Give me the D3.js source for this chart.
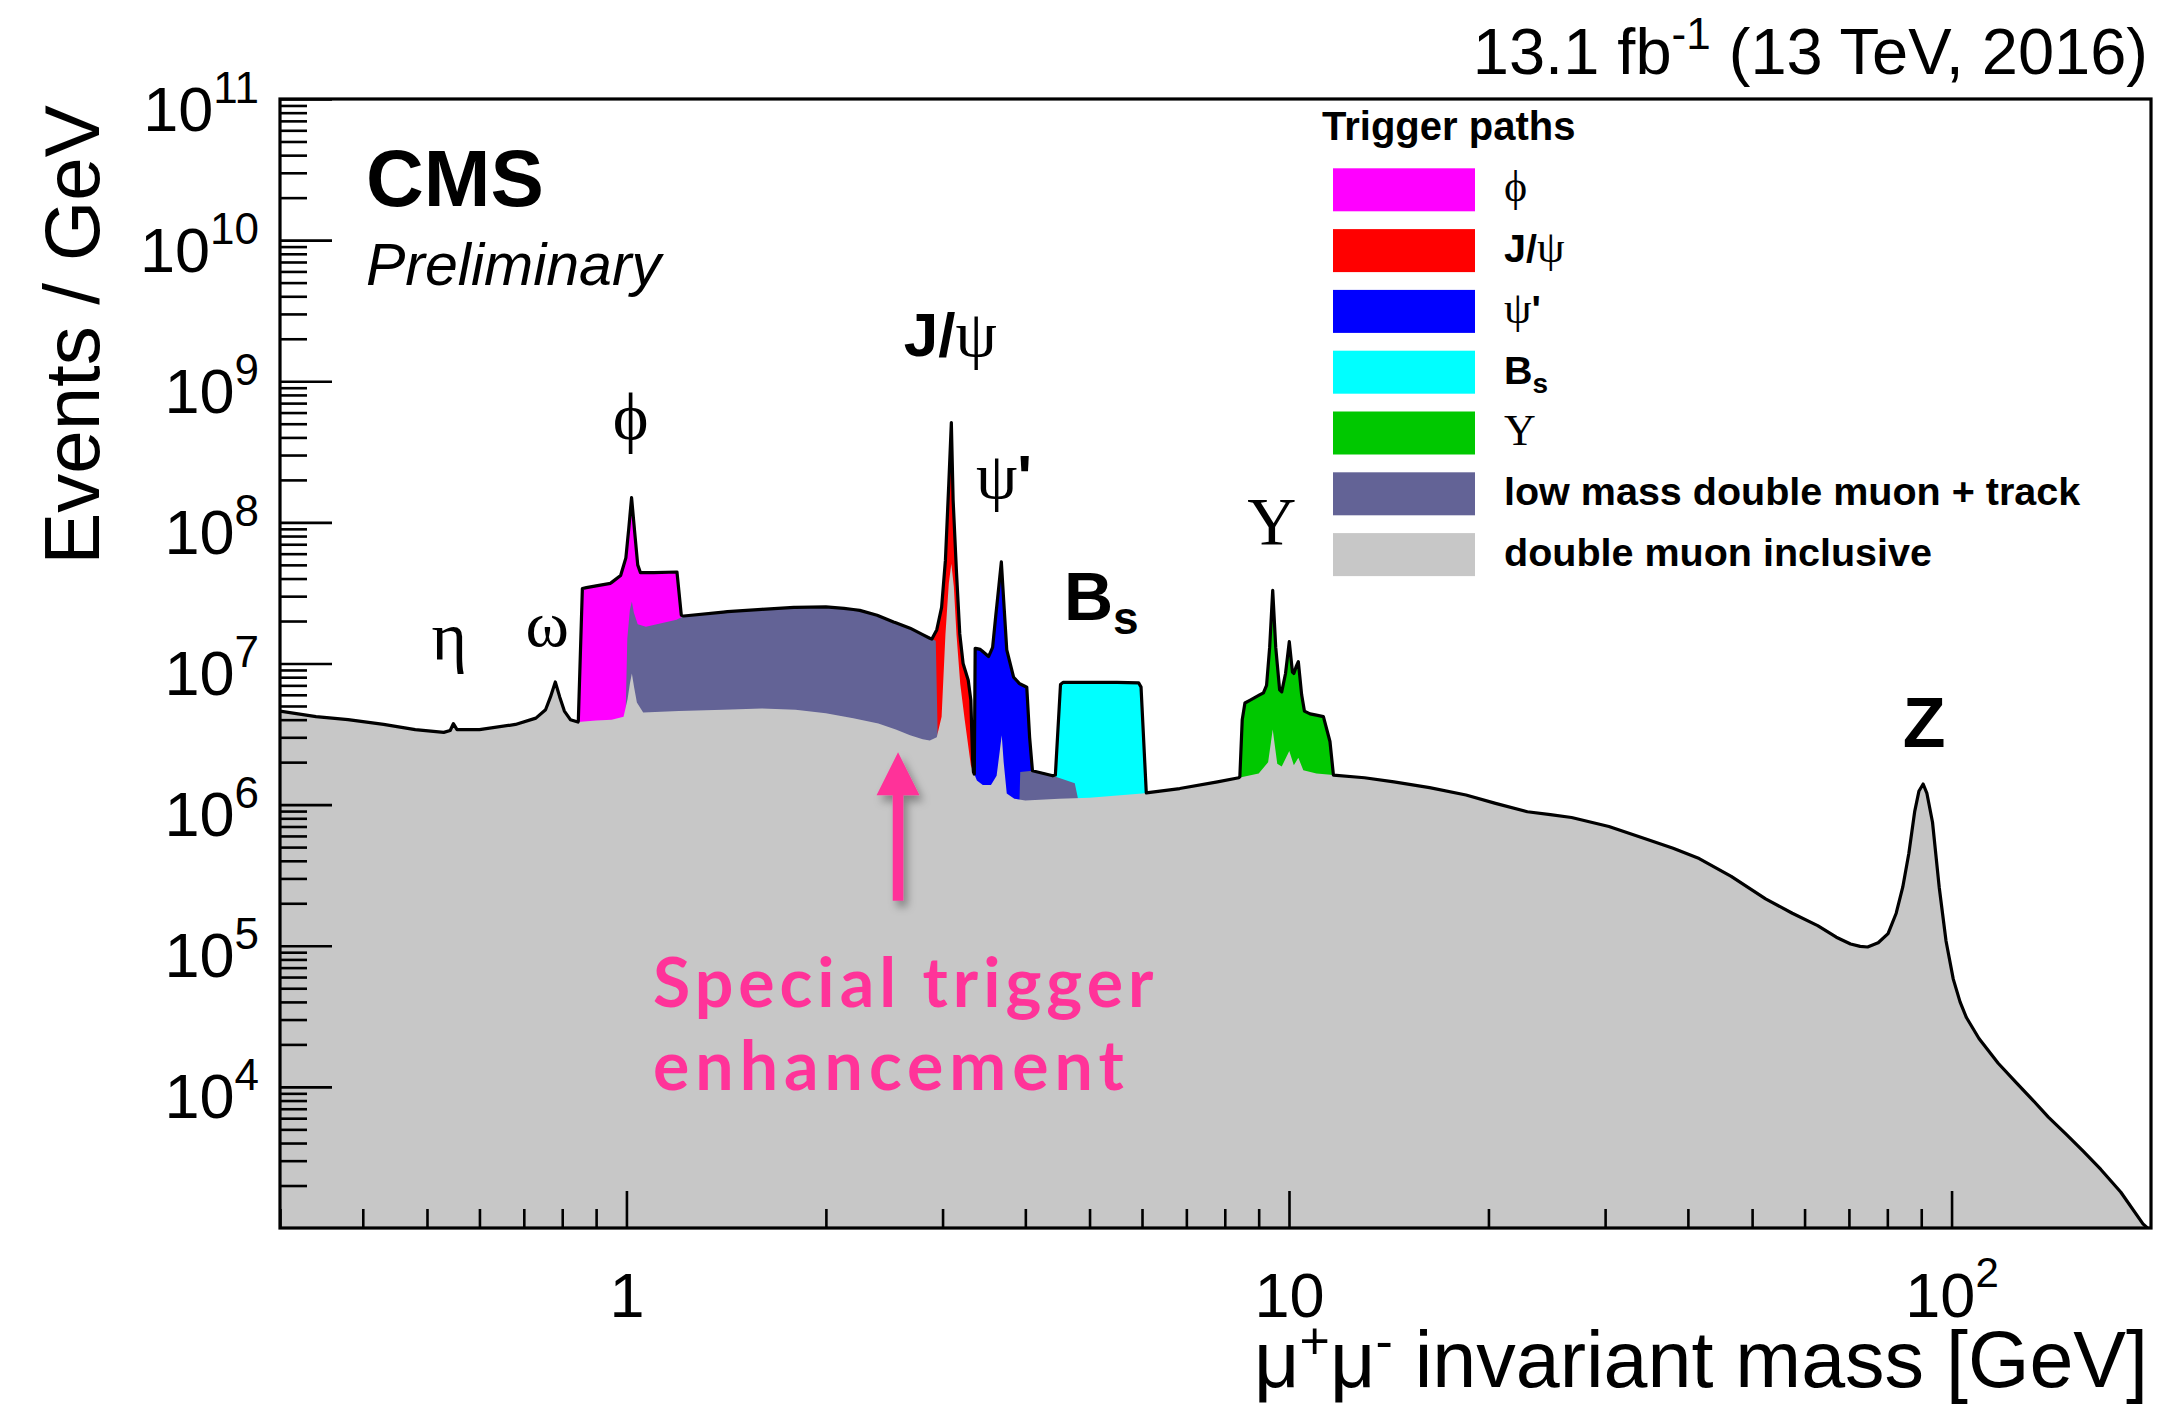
<!DOCTYPE html>
<html>
<head>
<meta charset="utf-8">
<script src="https://cdn.jsdelivr.net/npm/d3@7"></script>
<style>
  body { margin: 0; background: #ffffff; }
  svg { display: block; }
  text { font-family: "Liberation Sans", Arial, Helvetica, sans-serif; fill: #000; }
  .serif { font-family: "Liberation Serif", "DejaVu Serif", "Times New Roman", serif; }
</style>
</head>
<body>
<svg id="chart" width="2163" height="1404"></svg>
<script>
// ---- Dimuon invariant-mass spectrum, events per GeV, per trigger path ----
// Each series is a list of [mass (GeV), events/GeV]; null splits a series into pieces.

const inclusive = [
  [0.30,4.6e6],[0.34,4.2e6],[0.38,4.0e6],[0.43,3.7e6],[0.48,3.4e6],[0.53,3.25e6],
  [0.542,3.35e6],[0.548,3.75e6],[0.555,3.4e6],[0.60,3.4e6],[0.68,3.7e6],[0.73,4.1e6],
  [0.755,4.7e6],[0.768,5.8e6],[0.781,7.4e6],[0.793,5.8e6],[0.806,4.6e6],[0.823,4.0e6],
  [0.845,3.85e6],[0.90,3.95e6],[0.95,4.0e6],[0.99,4.2e6],[1.004,5.6e6],[1.012,7.2e6],
  [1.019,8.5e6],[1.027,6.8e6],[1.037,5.3e6],[1.06,4.5e6],[1.2,4.6e6],[1.4,4.7e6],
  [1.6,4.8e6],[1.8,4.7e6],[2.0,4.45e6],[2.2,4.1e6],[2.4,3.75e6],[2.55,3.4e6],
  [2.68,3.1e6],[2.8,2.9e6],[2.87,2.85e6],[2.94,3.0e6],[2.99,4.2e6],
  [3.03,1.6e7],[3.066,3.7e7],[3.093,5.1e7],[3.12,3.5e7],[3.149,1.6e7],[3.19,7.2e6],
  [3.24,4.0e6],[3.31,1.9e6],[3.38,1.48e6],[3.45,1.38e6],[3.55,1.38e6],[3.62,1.6e6],
  [3.66,2.4e6],[3.685,3.1e6],[3.71,2.0e6],[3.75,1.2e6],[3.85,1.1e6],[4.0,1.07e6],
  [4.5,1.1e6],[5.0,1.12e6],[6.0,1.2e6],[6.84,1.3e6],[7.8,1.45e6],[8.4,1.55e6],
  [9.0,1.66e6],[9.3,2.0e6],[9.45,3.4e6],[9.6,1.95e6],[9.75,1.86e6],[10.01,2.4e6],
  [10.17,1.9e6],[10.33,2.15e6],[10.51,1.75e6],[11.0,1.66e6],[11.67,1.62e6],[13.0,1.55e6],
  [14.4,1.45e6],[16.3,1.32e6],[18.5,1.17e6],[20.5,1.02e6],[22.9,8.9e5],[24.8,8.5e5],
  [26.7,8.1e5],[30.4,7.0e5],[34.4,5.75e5],[38.0,4.9e5],[41.6,4.15e5],[46.5,3.1e5],
  [52.4,2.15e5],[57.5,1.7e5],[62.8,1.39e5],[67.0,1.15e5],[70.4,1.03e5],[72.8,9.9e4],
  [74.7,9.8e4],[77.5,1.05e5],[80.2,1.22e5],[82.5,1.7e5],[84.4,2.6e5],[86.2,4.5e5],
  [88.0,9.0e5],[89.3,1.25e6],[90.6,1.4e6],[91.8,1.2e6],[93.6,7.5e5],[95.8,2.6e5],
  [98.1,1.08e5],[100.6,5.8e4],[103.0,4.0e4],[105.3,3.1e4],[110,2.2e4],[117.6,1.47e4],
  [125,1.08e4],[132.5,8.1e3],[140,6.1e3],[149,4.6e3],[158,3.5e3],[168,2.6e3],
  [180,1.8e3],[194.5,1.07e3],[200,9.5e2]
];

const lowMassTrack = [
  [0.997,4.2e6],[1.003,1.5e7],[1.012,2.4e7],[1.019,2.75e7],[1.026,2.3e7],[1.04,1.9e7],
  [1.07,1.82e7],[1.19,2.04e7],[1.22,2.17e7],[1.42,2.33e7],[1.6,2.42e7],[1.79,2.5e7],
  [2.0,2.52e7],[2.13,2.46e7],[2.25,2.38e7],[2.39,2.2e7],[2.53,1.97e7],[2.68,1.78e7],
  [2.8,1.6e7],[2.87,1.51e7],[2.93,1.45e7],[2.95,3.0e6],
  null,
  [3.92,1.1e6],[3.93,1.7e6],[4.1,1.74e6],[4.4,1.6e6],[4.75,1.42e6],[4.8,1.12e6]
];

const phiPath = [
  [0.846,3.9e6],[0.858,3.4e7],[0.87,3.45e7],[0.90,3.55e7],[0.946,3.7e7],[0.98,4.2e7],
  [0.998,5.6e7],[1.008,9.0e7],[1.018,1.5e8],[1.028,9.0e7],[1.04,5.0e7],[1.05,4.4e7],
  [1.10,4.4e7],[1.192,4.45e7],[1.21,2.2e7]
];

const jpsiPath = [
  [2.89,2.9e6],[2.895,1.51e7],[2.94,1.73e7],[2.99,2.5e7],[3.03,5.4e7],[3.066,1.9e8],
  [3.093,5.1e8],[3.112,1.45e8],[3.149,4.4e7],[3.185,1.62e7],[3.222,1.0e7],[3.28,7.6e6],
  [3.31,5.5e6],[3.33,2.1e6],[3.34,1.6e6]
];

const psi2sPath = [
  [3.35,1.45e6],[3.36,1.28e7],[3.42,1.26e7],[3.52,1.12e7],[3.57,1.3e7],[3.61,2.2e7],
  [3.65,3.6e7],[3.68,5.25e7],[3.71,2.8e7],[3.75,1.25e7],[3.84,8.0e6],[3.92,7.2e6],
  [4.02,6.8e6],[4.06,3.0e6],[4.1,1.7e6]
];

const bsPath = [
  [4.44,1.62e6],[4.52,7.1e6],[4.56,7.35e6],[5.0,7.35e6],[5.5,7.35e6],[5.93,7.3e6],
  [5.98,6.8e6],[6.09,1.2e6]
];

const upsilonPath = [
  [8.43,1.58e6],[8.50,4.0e6],[8.58,5.25e6],[8.74,5.5e6],[9.15,6.2e6],[9.25,7.0e6],
  [9.35,1.3e7],[9.45,3.3e7],[9.55,1.3e7],[9.68,6.5e6],[9.75,6.3e6],[9.88,8.5e6],
  [10.01,1.43e7],[10.12,8.7e6],[10.17,8.5e6],[10.25,9.5e6],[10.33,1.03e7],[10.45,6.0e6],
  [10.55,4.6e6],[10.76,4.4e6],[11.27,4.2e6],[11.53,2.8e6],[11.67,1.62e6]
];

// axis ticks
const yMajorTicks = [1e4,1e5,1e6,1e7,1e8,1e9,1e10,1e11];
const xMajorTicks = [1,10,100];
const xTickLabels = [["1",""],["10",""],["10","2"]];

// legend entries: [color, label pieces (text, style)]
const legendEntries = [
  ["#ff00ff", [["\u03D5","greek"]]],
  ["#ff0000", [["J/","bold"],["\u03C8","greek"]]],
  ["#0000ff", [["\u03C8","greek"],["'","bold"]]],
  ["#00ffff", [["B","bold"],["s","boldsub"]]],
  ["#00c800", [["\u03A5","greek"]]],
  ["#636396", [["low mass double muon + track","bold"]]],
  ["#c7c7c7", [["double muon inclusive","bold"]]]
];

// ---- layout ----
const W = 2163, H = 1404;
const plot = { left: 280, right: 2151, top: 99, bottom: 1228 };

const x = d3.scaleLog().domain([0.3, 200]).range([plot.left, plot.right]);
const y = d3.scaleLog().domain([1e3, 1e11]).range([plot.bottom, plot.top]);

const svg = d3.select("#chart");
svg.append("rect").attr("width", W).attr("height", H).attr("fill", "#fff");

const defs = svg.append("defs");
defs.append("clipPath").attr("id", "plotClip")
  .append("rect")
  .attr("x", plot.left).attr("y", plot.top)
  .attr("width", plot.right - plot.left).attr("height", plot.bottom - plot.top);
const shadow = defs.append("filter").attr("id", "arrowShadow")
  .attr("x", "-50%").attr("y", "-50%").attr("width", "200%").attr("height", "200%");
shadow.append("feDropShadow").attr("dx", 4).attr("dy", 6).attr("stdDeviation", 4)
  .attr("flood-color", "#000").attr("flood-opacity", 0.35);

const area = d3.area()
  .defined(d => d !== null)
  .x(d => x(d[0]))
  .y0(y(1e3))
  .y1(d => y(d[1]));

const gPlot = svg.append("g").attr("clip-path", "url(#plotClip)");

// trigger windows first, then the track path, then the inclusive spectrum on top
const layers = [
  [phiPath, "#ff00ff"],
  [jpsiPath, "#ff0000"],
  [psi2sPath, "#0000ff"],
  [bsPath, "#00ffff"],
  [upsilonPath, "#00c800"],
  [lowMassTrack, "#636396"],
  [inclusive, "#c7c7c7"]
];
layers.forEach(([data, color]) => {
  gPlot.append("path").datum(data).attr("d", area).attr("fill", color).attr("stroke", "none");
});

// outline: upper envelope of all trigger paths
function splitSegments(series) {
  const segs = []; let cur = [];
  series.forEach(p => {
    if (p === null) { if (cur.length) segs.push(cur); cur = []; }
    else cur.push(p);
  });
  if (cur.length) segs.push(cur);
  return segs;
}
const bisect = d3.bisector(d => d[0]).right;
function logValueAt(seg, m) {
  if (m < seg[0][0] || m > seg[seg.length - 1][0]) return -Infinity;
  const i = bisect(seg, m);
  if (i >= seg.length) return Math.log10(seg[seg.length - 1][1]);
  if (i === 0) return Math.log10(seg[0][1]);
  const a = seg[i - 1], b = seg[i];
  const t = (Math.log(m) - Math.log(a[0])) / (Math.log(b[0]) - Math.log(a[0]));
  return Math.log10(a[1]) + t * (Math.log10(b[1]) - Math.log10(a[1]));
}
const allSegments = layers.flatMap(([data]) => splitSegments(data));
const masses = Array.from(new Set(allSegments.flatMap(s => s.map(p => p[0])))).sort((a, b) => a - b);
const envelope = masses.map(m => [m, Math.pow(10, d3.max(allSegments, s => logValueAt(s, m)))]);

gPlot.append("path").datum(envelope)
  .attr("d", d3.line().x(d => x(d[0])).y(d => y(d[1])))
  .attr("fill", "none").attr("stroke", "#000").attr("stroke-width", 3.2)
  .attr("stroke-linejoin", "round");

// ---- axes ----
const yMinor = [];
for (let e = 3; e <= 10; e++) for (let k = 2; k <= 9; k++) yMinor.push(k * Math.pow(10, e));
const xMinor = [];
[0.1, 1, 10].forEach(base => { for (let k = 2; k <= 9; k++) { const v = k * base; if (v > 0.3 && v < 200) xMinor.push(v); } });

function styleTicks(g) {
  g.select(".domain").remove();
  g.selectAll(".tick line").attr("stroke", "#000").attr("stroke-width", 2.6);
}

const yMinorG = svg.append("g").attr("transform", `translate(${plot.left},0)`)
  .call(d3.axisLeft(y).tickValues(yMinor).tickSize(-27).tickFormat(""));
styleTicks(yMinorG);
yMinorG.selectAll(".tick text").remove();

const yMajorG = svg.append("g").attr("transform", `translate(${plot.left},0)`)
  .call(d3.axisLeft(y).tickValues(yMajorTicks).tickSize(-52).tickPadding(21));
styleTicks(yMajorG);
yMajorG.selectAll(".tick text").each(function (d) {
  const t = d3.select(this);
  t.text(null).attr("dy", null).attr("y", 31)
    .attr("text-anchor", "end")
    .style("font-family", '"Liberation Sans", Arial, sans-serif')
    .style("font-size", "63px").attr("fill", "#000");
  t.append("tspan").text("10");
  t.append("tspan").attr("dy", -28).style("font-size", "44px").text(String(Math.round(Math.log10(d))));
});

const xMinorG = svg.append("g").attr("transform", `translate(0,${plot.bottom})`)
  .call(d3.axisBottom(x).tickValues(xMinor).tickSize(-19).tickFormat(""));
styleTicks(xMinorG);
xMinorG.selectAll(".tick text").remove();

const xMajorG = svg.append("g").attr("transform", `translate(0,${plot.bottom})`)
  .call(d3.axisBottom(x).tickValues(xMajorTicks).tickSize(-37));
styleTicks(xMajorG);
xMajorG.selectAll(".tick text").each(function (d, i) {
  const t = d3.select(this);
  const [base, exp] = xTickLabels[i];
  t.text(null).attr("dy", null).attr("y", 89)
    .attr("text-anchor", "middle")
    .style("font-family", '"Liberation Sans", Arial, sans-serif')
    .style("font-size", "63px").attr("fill", "#000");
  t.append("tspan").text(base);
  if (exp) t.append("tspan").attr("dy", -30).style("font-size", "42px").text(exp);
});

// frame
svg.append("rect")
  .attr("x", plot.left).attr("y", plot.top)
  .attr("width", plot.right - plot.left).attr("height", plot.bottom - plot.top)
  .attr("fill", "none").attr("stroke", "#000").attr("stroke-width", 3.2);

// ---- axis titles ----
svg.append("text")
  .attr("transform", `translate(99,335) rotate(-90)`)
  .attr("text-anchor", "middle").style("font-size", "78px")
  .text("Events / GeV");

const xt = svg.append("text").attr("x", 2148).attr("y", 1387)
  .attr("text-anchor", "end").style("font-size", "79px");
xt.append("tspan").text("\u03BC");
xt.append("tspan").attr("dy", -28).style("font-size", "52px").text("+");
xt.append("tspan").attr("dy", 28).text("\u03BC");
xt.append("tspan").attr("dy", -28).style("font-size", "52px").text("-");
xt.append("tspan").attr("dy", 28).text(" invariant mass [GeV]");

// luminosity / energy
const lumi = svg.append("text").attr("x", 2148).attr("y", 74)
  .attr("text-anchor", "end").style("font-size", "65px");
lumi.append("tspan").text("13.1 fb");
lumi.append("tspan").attr("dy", -25).style("font-size", "44px").text("-1");
lumi.append("tspan").attr("dy", 25).text(" (13 TeV, 2016)");

svg.append("text").attr("x", 366).attr("y", 206)
  .style("font-size", "80px").style("font-weight", "bold").text("CMS");
svg.append("text").attr("x", 366).attr("y", 285)
  .style("font-size", "59px").style("font-style", "italic").text("Preliminary");

// ---- resonance labels ----
function richText(x0, y0, parts, size, anchor) {
  const t = svg.append("text").attr("x", x0).attr("y", y0).attr("text-anchor", anchor || "middle");
  parts.forEach(([s, kind, sz]) => {
    const sp = t.append("tspan").text(s);
    const fs = sz || size;
    if (kind === "greek") sp.attr("class", "serif").style("font-size", fs + "px");
    if (kind === "bold") sp.style("font-weight", "bold").style("font-size", fs + "px");
    if (kind === "boldsub") sp.style("font-weight", "bold").style("font-size", Math.round(fs * 0.68) + "px").attr("dy", 14);
  });
  return t;
}
richText(x(0.548) - 4, 660, [["\u03B7", "greek"]], 68);
richText(x(0.781) - 8, 646, [["\u03C9", "greek"]], 66);
richText(x(1.018) - 1, 440, [["\u03D5", "greek"]], 68);
richText(x(3.093) - 1, 356, [["J/", "bold", 62], ["\u03C8", "greek", 66]], 62);
richText(976, 498, [["\u03C8", "greek", 66], ["'", "bold", 62]], 64, "start");
richText(1064, 620, [["B", "bold"], ["s", "boldsub"]], 68, "start");
richText(x(9.45) - 1, 544, [["\u03A5", "greek"]], 68);
svg.append("text").attr("x", x(90.6) + 1).attr("y", 747).attr("text-anchor", "middle")
  .style("font-size", "70px").style("font-weight", "bold").text("Z");

// ---- annotation ----
const arrowMass = 2.57, tipVal = 2.35e6, tailVal = 2.08e5;
const ax = x(arrowMass), ay0 = y(tipVal), ay1 = y(tailVal);
const pink = "#ff3399";
const arrowG = svg.append("g").attr("filter", "url(#arrowShadow)");
arrowG.append("path")
  .attr("d", `M${ax},${ay0} L${ax + 21.5},${ay0 + 43} L${ax + 5.3},${ay0 + 43} L${ax + 5.3},${ay1} L${ax - 5.3},${ay1} L${ax - 5.3},${ay0 + 43} L${ax - 21.5},${ay0 + 43} Z`)
  .attr("fill", pink);
const noteFont = "Lato, 'Open Sans', sans-serif";
svg.append("text").attr("x", 653).attr("y", 1007)
  .style("font-family", noteFont).style("font-weight", "bold")
  .style("font-size", "68px").style("letter-spacing", "5px").style("fill", pink)
  .text("Special trigger");
svg.append("text").attr("x", 653).attr("y", 1090)
  .style("font-family", noteFont).style("font-weight", "bold")
  .style("font-size", "68px").style("letter-spacing", "6px").style("fill", pink)
  .text("enhancement");

// ---- legend ----
const lg = svg.append("g");
lg.append("text").attr("x", 1322).attr("y", 140)
  .style("font-size", "40px").style("font-weight", "bold").text("Trigger paths");
legendEntries.forEach(([color, parts], i) => {
  const top = 168.3 + i * 60.8;
  lg.append("rect").attr("x", 1333).attr("y", top).attr("width", 142).attr("height", 43).attr("fill", color);
  const t = lg.append("text").attr("x", 1504).attr("y", top + 33);
  parts.forEach(([s, kind]) => {
    const sp = t.append("tspan").text(s);
    if (kind === "greek") sp.attr("class", "serif").style("font-size", "44px");
    if (kind === "bold") sp.style("font-weight", "bold").style("font-size", "39.5px");
    if (kind === "boldsub") sp.style("font-weight", "bold").style("font-size", "28px").attr("dy", 9);
  });
});
</script>
</body>
</html>
